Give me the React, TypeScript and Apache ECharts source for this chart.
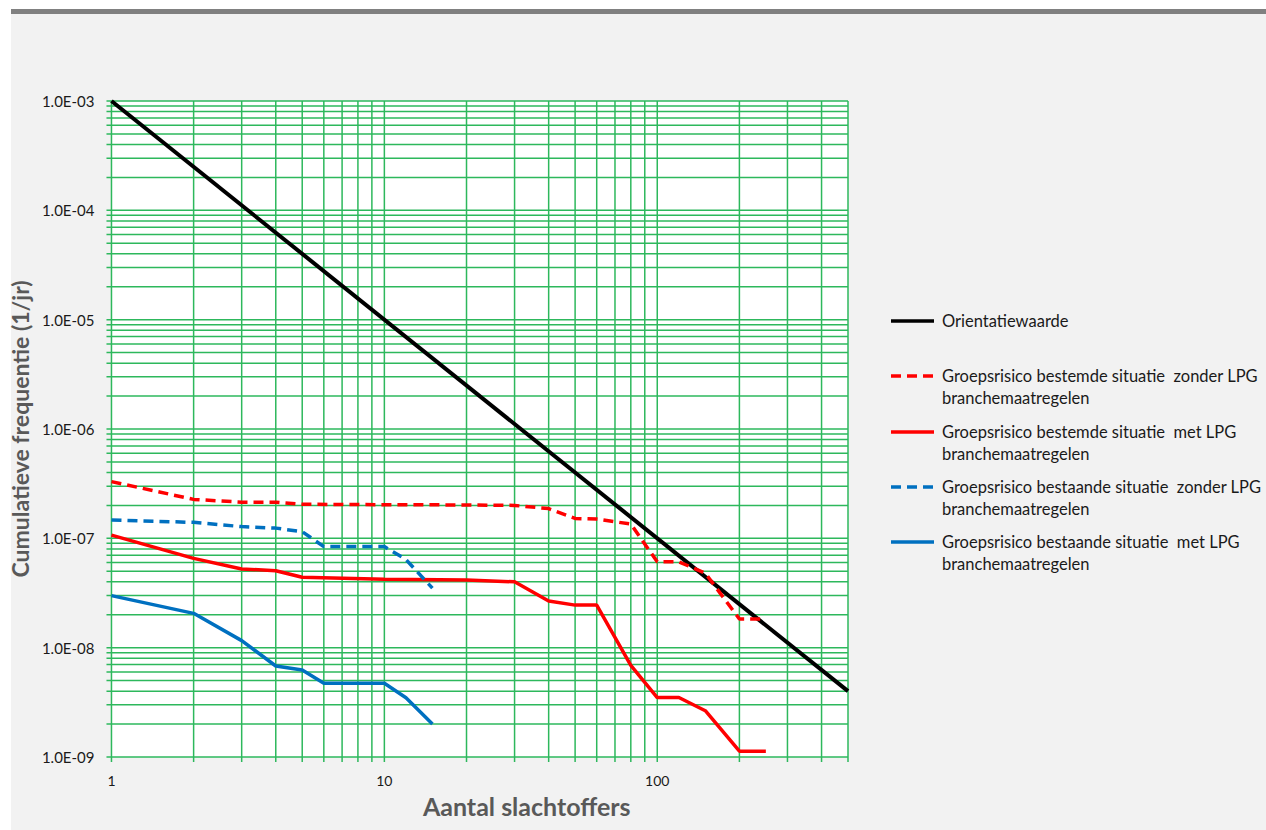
import React, { useEffect, useRef } from "react";
import * as echarts from "echarts";

// Axis ticks / labels
const xTickLabels = ["1", "10", "100"];
const xGridValues = [1, 2, 3, 4, 5, 6, 7, 8, 9, 10, 20, 30, 40, 50, 60, 70, 80, 90, 100, 200, 300, 400, 500];
const yGridValues = [
  1e-9, 2e-9, 3e-9, 4e-9, 5e-9, 6e-9, 7e-9, 8e-9, 9e-9,
  1e-8, 2e-8, 3e-8, 4e-8, 5e-8, 6e-8, 7e-8, 8e-8, 9e-8,
  1e-7, 2e-7, 3e-7, 4e-7, 5e-7, 6e-7, 7e-7, 8e-7, 9e-7,
  1e-6, 2e-6, 3e-6, 4e-6, 5e-6, 6e-6, 7e-6, 8e-6, 9e-6,
  1e-5, 2e-5, 3e-5, 4e-5, 5e-5, 6e-5, 7e-5, 8e-5, 9e-5,
  1e-4, 2e-4, 3e-4, 4e-4, 5e-4, 6e-4, 7e-4, 8e-4, 9e-4,
  1e-3,
];

// Series
const orientatieX = [1, 500];
const orientatieY = [1e-3, 4e-9];

const bestemdZonderX = [1, 2, 3, 4, 5, 10, 20, 30, 40, 50, 60, 80, 100, 120, 150, 200, 250];
const bestemdZonderY = [3.3e-7, 2.27e-7, 2.14e-7, 2.14e-7, 2.05e-7, 2.03e-7, 2.02e-7, 2.0e-7, 1.87e-7, 1.52e-7, 1.5e-7, 1.35e-7, 6.1e-8, 6.1e-8, 4.8e-8, 1.83e-8, 1.83e-8];

const bestemdMetX = [1, 2, 3, 4, 5, 10, 20, 30, 40, 50, 60, 80, 100, 120, 150, 200, 250];
const bestemdMetY = [1.07e-7, 6.56e-8, 5.24e-8, 5.06e-8, 4.4e-8, 4.22e-8, 4.16e-8, 4.0e-8, 2.67e-8, 2.45e-8, 2.45e-8, 6.9e-9, 3.5e-9, 3.5e-9, 2.65e-9, 1.13e-9, 1.13e-9];

const bestaandZonderX = [1, 2, 3, 4, 5, 6, 10, 12, 15];
const bestaandZonderY = [1.47e-7, 1.4e-7, 1.28e-7, 1.24e-7, 1.15e-7, 8.4e-8, 8.4e-8, 6.4e-8, 3.5e-8];

const bestaandMetX = [1, 2, 3, 4, 5, 6, 10, 12, 15];
const bestaandMetY = [2.99e-8, 2.06e-8, 1.16e-8, 6.8e-9, 6.25e-9, 4.72e-9, 4.72e-9, 3.48e-9, 2.0e-9];

const seriesNames = [
  "Orientatiewaarde",
  "Groepsrisico bestemde situatie zonder LPG branchemaatregelen",
  "Groepsrisico bestemde situatie met LPG branchemaatregelen",
  "Groepsrisico bestaande situatie zonder LPG branchemaatregelen",
  "Groepsrisico bestaande situatie met LPG branchemaatregelen",
];
const legendLabels = [
  "Orientatiewaarde",
  "Groepsrisico bestemde situatie  zonder LPG\nbranchemaatregelen",
  "Groepsrisico bestemde situatie  met LPG\nbranchemaatregelen",
  "Groepsrisico bestaande situatie  zonder LPG\nbranchemaatregelen",
  "Groepsrisico bestaande situatie  met LPG\nbranchemaatregelen",
];

const X_MIN = 1;
const X_MAX = 500;
const Y_MIN = 1e-9;
const Y_MAX = 1e-3;

const GRID_COLOR = "#2db85c";
const FONT = "Lato";

function zip(xs: number[], ys: number[]) {
  return xs.map((x, i) => [x, ys[i]]);
}

function fmtExp(v: number) {
  const e = Math.round(Math.log10(v));
  return "1.0E" + (e < 0 ? "-" : "+") + String(Math.abs(e)).padStart(2, "0");
}

export default function App() {
  const ref = useRef<HTMLDivElement>(null);
  useEffect(() => {
    if (!ref.current) return;
    const chart = echarts.init(ref.current, undefined, { renderer: "svg" });

    const styles = [
      { color: "#000000", type: "solid", width: 4 },
      { color: "#ff0000", type: [10, 6], width: 3.5 },
      { color: "#ff0000", type: "solid", width: 3.5 },
      { color: "#0070c0", type: [10, 6], width: 3.5 },
      { color: "#0070c0", type: "solid", width: 3.5 },
    ];
    const datas = [
      zip(orientatieX, orientatieY),
      zip(bestemdZonderX, bestemdZonderY),
      zip(bestemdMetX, bestemdMetY),
      zip(bestaandZonderX, bestaandZonderY),
      zip(bestaandMetX, bestaandMetY),
    ];

    const legendCenters = [321, 376, 432, 487, 542];
    const lineH = 21.5;
    const legendGraphics: any[] = [];
    legendLabels.forEach((lab, i) => {
      const s = styles[i];
      legendGraphics.push({
        type: "line",
        shape: { x1: 891, y1: legendCenters[i], x2: 934, y2: legendCenters[i] },
        style: {
          stroke: s.color,
          lineWidth: 3.5,
          lineDash: Array.isArray(s.type) ? s.type : null,
        },
      });
      legendGraphics.push({
        type: "text",
        x: 942,
        y: legendCenters[i] - lineH / 2,
        style: {
          text: lab,
          fontFamily: FONT,
          fontSize: 16.5,
          lineHeight: lineH,
          fill: "#1a1a1a",
          verticalAlign: "top",
          align: "left",
        },
      });
    });

    const option: any = {
      animation: false,
      backgroundColor: "#f2f2f2",
      textStyle: { fontFamily: FONT },
      graphic: [
        { type: "rect", shape: { x: 0, y: 0, width: 1266, height: 9 }, style: { fill: "#ffffff" } },
        { type: "rect", shape: { x: 0, y: 0, width: 11, height: 830 }, style: { fill: "#ffffff" } },
        { type: "rect", shape: { x: 11, y: 9, width: 1255, height: 5 }, style: { fill: "#808080" } },
        ...legendGraphics,
      ],
      grid: {
        left: 110,
        top: 101,
        width: 738,
        height: 656,
        show: true,
        backgroundColor: "#ffffff",
        borderWidth: 0,
      },
      xAxis: {
        type: "log",
        logBase: 10,
        min: X_MIN,
        max: X_MAX,
        splitNumber: 5,
        name: "Aantal slachtoffers",
        nameLocation: "middle",
        nameGap: 36,
        nameTextStyle: {
          fontFamily: FONT,
          fontSize: 25,
          fontWeight: "bold",
          color: "#595959",
          padding: [0, 0, 0, 94],
        },
        axisLine: { show: false },
        axisTick: { show: false },
        splitLine: { show: false },
        axisLabel: {
          margin: 16,
          fontFamily: FONT,
          fontSize: 14,
          color: "#1a1a1a",
          formatter: (v: number) => {
            const idx = Math.round(Math.log10(v));
            const isDecade = Math.abs(Math.log10(v) - idx) < 1e-6;
            return isDecade && xTickLabels[idx] !== undefined ? xTickLabels[idx] : "";
          },
        },
      },
      yAxis: {
        type: "log",
        logBase: 10,
        min: Y_MIN,
        max: Y_MAX,
        splitNumber: 6,
        name: "Cumulatieve frequentie (1/jr)",
        nameLocation: "middle",
        nameGap: 71,
        nameRotate: 90,
        nameTextStyle: { fontFamily: FONT, fontSize: 23, fontWeight: "bold", color: "#595959" },
        axisLine: { show: false },
        axisTick: { show: false },
        splitLine: { show: false },
        axisLabel: {
          margin: 17,
          fontFamily: FONT,
          fontSize: 15,
          color: "#1a1a1a",
          formatter: (v: number) => fmtExp(v),
        },
      },
      series: [
        {
          type: "custom",
          name: "xgrid",
          silent: true,
          z: 1,
          clip: false,
          data: xGridValues.map((v) => [v, Y_MIN]),
          encode: { x: 0, y: 1 },
          renderItem: (_p: any, api: any) => {
            const v = api.value(0);
            const top = api.coord([v, Y_MAX]);
            const bottom = api.coord([v, Y_MIN]);
            return {
              type: "line",
              shape: { x1: top[0], y1: top[1], x2: bottom[0], y2: bottom[1] + 5 },
              style: { stroke: GRID_COLOR, lineWidth: 1.5 },
            };
          },
        },
        {
          type: "custom",
          name: "ygrid",
          silent: true,
          z: 1,
          clip: false,
          data: yGridValues.map((v) => [X_MIN, v]),
          encode: { x: 0, y: 1 },
          renderItem: (_p: any, api: any) => {
            const v = api.value(1);
            const left = api.coord([X_MIN, v]);
            const right = api.coord([X_MAX, v]);
            return {
              type: "line",
              shape: { x1: left[0] - 5, y1: left[1], x2: right[0], y2: right[1] },
              style: { stroke: GRID_COLOR, lineWidth: 1.5 },
            };
          },
        },
        ...datas.map((d, i) => ({
          type: "line",
          name: seriesNames[i],
          data: d,
          symbol: "none",
          z: 5,
          lineStyle: { color: styles[i].color, type: styles[i].type, width: styles[i].width },
          itemStyle: { color: styles[i].color },
        })),
      ],
    };
    chart.setOption(option);
    return () => chart.dispose();
  }, []);
  return (
    <div
      ref={ref}
      style={{ position: "absolute", left: 0, top: 0, width: 1266, height: 830 }}
    />
  );
}
